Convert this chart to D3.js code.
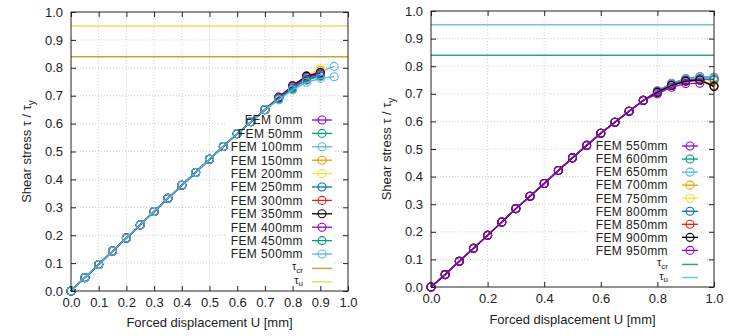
<!DOCTYPE html>
<html>
<head>
<meta charset="utf-8">
<script src="https://cdn.jsdelivr.net/npm/d3@7"></script>
<style>
  body { margin: 0; background: #fff; }
  svg text { font-family: "Liberation Sans", Arial, sans-serif; fill: #222; }
</style>
</head>
<body>
<svg id="chart" width="729" height="336"></svg>
<script>
// Forced displacement steps [mm]
const uLeft  = [0, 0.05, 0.1, 0.15, 0.2, 0.25, 0.3, 0.35, 0.4, 0.45, 0.5, 0.55, 0.6, 0.65, 0.7, 0.75, 0.8, 0.85, 0.9, 0.95];
const uRight = [0, 0.05, 0.1, 0.15, 0.2, 0.25, 0.3, 0.35, 0.4, 0.45, 0.5, 0.55, 0.6, 0.65, 0.7, 0.75, 0.8, 0.85, 0.9, 0.95, 1.0];

// Normalised shear stress tau / tau_y, left panel (0 - 500 mm)
const fem0   = [0, 0.048, 0.095, 0.143, 0.190, 0.237, 0.285, 0.332, 0.379, 0.425, 0.472, 0.518, 0.564, 0.607, 0.650, 0.694, 0.734, 0.768, 0.781];
const fem50  = [0, 0.048, 0.095, 0.143, 0.190, 0.237, 0.285, 0.332, 0.379, 0.425, 0.472, 0.518, 0.564, 0.607, 0.650, 0.692, 0.731, 0.764, 0.776];
const fem100 = [0, 0.048, 0.095, 0.143, 0.190, 0.237, 0.285, 0.332, 0.379, 0.425, 0.472, 0.518, 0.564, 0.607, 0.650, 0.690, 0.728, 0.760, 0.785, 0.805];
const fem150 = [0, 0.048, 0.095, 0.143, 0.190, 0.237, 0.285, 0.332, 0.379, 0.425, 0.472, 0.518, 0.564, 0.607, 0.650, 0.693, 0.733, 0.768, 0.790];
const fem200 = [0, 0.048, 0.095, 0.143, 0.190, 0.237, 0.285, 0.332, 0.379, 0.425, 0.472, 0.518, 0.564, 0.607, 0.650, 0.694, 0.735, 0.772, 0.797];
const fem250 = [0, 0.048, 0.095, 0.143, 0.190, 0.237, 0.285, 0.332, 0.379, 0.425, 0.472, 0.518, 0.564, 0.607, 0.650, 0.688, 0.726, 0.758, 0.772];
const fem300 = [0, 0.048, 0.095, 0.143, 0.190, 0.237, 0.285, 0.332, 0.379, 0.425, 0.472, 0.518, 0.564, 0.607, 0.650, 0.695, 0.736, 0.770, 0.780];
const fem350 = [0, 0.048, 0.095, 0.143, 0.190, 0.237, 0.285, 0.332, 0.379, 0.425, 0.472, 0.518, 0.564, 0.607, 0.650, 0.694, 0.735, 0.770, 0.783];
const fem400 = [0, 0.048, 0.095, 0.143, 0.190, 0.237, 0.285, 0.332, 0.379, 0.425, 0.472, 0.518, 0.564, 0.607, 0.650, 0.693, 0.733, 0.766, 0.778];
const fem450 = [0, 0.048, 0.095, 0.143, 0.190, 0.237, 0.285, 0.332, 0.379, 0.425, 0.472, 0.518, 0.564, 0.607, 0.650, 0.689, 0.727, 0.756, 0.770];
const fem500 = [0, 0.048, 0.095, 0.143, 0.190, 0.237, 0.285, 0.332, 0.379, 0.425, 0.472, 0.518, 0.564, 0.607, 0.650, 0.685, 0.721, 0.748, 0.762, 0.768];

// Right panel (550 - 950 mm)
const fem550 = [0, 0.045, 0.093, 0.140, 0.187, 0.235, 0.284, 0.329, 0.375, 0.422, 0.468, 0.513, 0.557, 0.597, 0.637, 0.676, 0.711, 0.738, 0.755, 0.762, 0.758];
const fem600 = [0, 0.045, 0.093, 0.140, 0.187, 0.235, 0.284, 0.329, 0.375, 0.422, 0.468, 0.513, 0.557, 0.597, 0.637, 0.676, 0.709, 0.735, 0.750, 0.755, 0.748];
const fem650 = [0, 0.045, 0.093, 0.140, 0.187, 0.235, 0.284, 0.329, 0.375, 0.422, 0.468, 0.513, 0.557, 0.597, 0.637, 0.676, 0.710, 0.737, 0.754, 0.761, 0.760];
const fem700 = [0, 0.045, 0.093, 0.140, 0.187, 0.235, 0.284, 0.329, 0.375, 0.422, 0.468, 0.513, 0.557, 0.597, 0.637, 0.676, 0.706, 0.730, 0.745, 0.749, 0.728];
const fem750 = [0, 0.045, 0.093, 0.140, 0.187, 0.235, 0.284, 0.329, 0.375, 0.422, 0.468, 0.513, 0.557, 0.597, 0.637, 0.676, 0.707, 0.732, 0.747, 0.752, 0.745];
const fem800 = [0, 0.045, 0.093, 0.140, 0.187, 0.235, 0.284, 0.329, 0.375, 0.422, 0.468, 0.513, 0.557, 0.597, 0.637, 0.676, 0.708, 0.733, 0.749, 0.754, 0.752];
const fem850 = [0, 0.045, 0.093, 0.140, 0.187, 0.235, 0.284, 0.329, 0.375, 0.422, 0.468, 0.513, 0.557, 0.597, 0.637, 0.676, 0.706, 0.731, 0.746, 0.749, 0.730];
const fem900 = [0, 0.045, 0.093, 0.140, 0.187, 0.235, 0.284, 0.329, 0.375, 0.422, 0.468, 0.513, 0.557, 0.597, 0.637, 0.676, 0.705, 0.730, 0.746, 0.750, 0.726];
const fem950 = [0, 0.045, 0.093, 0.140, 0.187, 0.235, 0.284, 0.329, 0.375, 0.422, 0.468, 0.513, 0.557, 0.597, 0.637, 0.676, 0.700, 0.724, 0.737, 0.738];

// Reference stress levels
const tauCr = 0.84;
const tauU  = 0.95;

const leftNames  = ["FEM 0mm", "FEM 50mm", "FEM 100mm", "FEM 150mm", "FEM 200mm", "FEM 250mm", "FEM 300mm", "FEM 350mm", "FEM 400mm", "FEM 450mm", "FEM 500mm"];
const rightNames = ["FEM 550mm", "FEM 600mm", "FEM 650mm", "FEM 700mm", "FEM 750mm", "FEM 800mm", "FEM 850mm", "FEM 900mm", "FEM 950mm"];

const leftTicksX  = [0, 0.1, 0.2, 0.3, 0.4, 0.5, 0.6, 0.7, 0.8, 0.9, 1.0];
const rightTicksX = [0, 0.2, 0.4, 0.6, 0.8, 1.0];
const ticksY      = [0, 0.1, 0.2, 0.3, 0.4, 0.5, 0.6, 0.7, 0.8, 0.9, 1.0];

// gnuplot-style line colours, cycling
const palette = ["#9400d3", "#009e73", "#56b4e9", "#e69f00", "#f0e442", "#0072b2", "#e51e10", "#000000"];

const svg = d3.select("#chart");

function panel(cfg) {
  const x = d3.scaleLinear().domain([0, 1]).range([cfg.x0, cfg.x1]);
  const y = d3.scaleLinear().domain([0, 1]).range([cfg.y1, cfg.y0]);
  const g = svg.append("g");

  // dotted grid
  g.append("g").selectAll("line").data(cfg.gridX).join("line")
    .attr("x1", d => x(d)).attr("x2", d => x(d))
    .attr("y1", cfg.y0).attr("y2", cfg.y1)
    .attr("stroke", "#c4c4c4").attr("stroke-width", 0.8).attr("stroke-dasharray", "1,2");
  g.append("g").selectAll("line").data(ticksY.slice(1, -1)).join("line")
    .attr("y1", d => y(d)).attr("y2", d => y(d))
    .attr("x1", cfg.x0).attr("x2", cfg.x1)
    .attr("stroke", "#c4c4c4").attr("stroke-width", 0.8).attr("stroke-dasharray", "1,2");

  // horizontal reference levels
  g.append("line").attr("x1", cfg.x0).attr("x2", cfg.x1)
    .attr("y1", y(tauU)).attr("y2", y(tauU))
    .attr("stroke", cfg.uColor).attr("stroke-width", 1.5);
  g.append("line").attr("x1", cfg.x0).attr("x2", cfg.x1)
    .attr("y1", y(tauCr)).attr("y2", y(tauCr))
    .attr("stroke", cfg.crColor).attr("stroke-width", 1.5);

  // legend box (opaque, hides grid behind it)
  const lg = cfg.legend;
  const rows = cfg.names.length + 2;
  g.append("rect")
    .attr("x", lg.textRight - lg.boxW).attr("y", lg.top - 8)
    .attr("width", lg.boxW + (lg.s1 - lg.textRight) + 3)
    .attr("height", lg.step * (rows - 1) + 16)
    .attr("fill", "#fff");

  // series
  const line = d3.line().x(d => x(d[0])).y(d => y(d[1]));
  cfg.series.forEach((vals, i) => {
    const pts = vals.map((v, k) => [cfg.u[k], v]);
    const c = palette[i % palette.length];
    g.append("path").attr("d", line(pts)).attr("fill", "none")
      .attr("stroke", c).attr("stroke-width", 1.3);
    g.append("g").selectAll("circle").data(pts).join("circle")
      .attr("cx", d => x(d[0])).attr("cy", d => y(d[1])).attr("r", 4)
      .attr("fill", "none").attr("stroke", c).attr("stroke-width", 1.1);
  });

  // legend entries
  cfg.names.forEach((name, i) => {
    const yy = lg.top + i * lg.step;
    const c = palette[i % palette.length];
    g.append("text").attr("x", lg.textRight).attr("y", yy + 4.3)
      .attr("text-anchor", "end").attr("font-size", 12)
      .attr("letter-spacing", 0.4).text(name);
    g.append("line").attr("x1", lg.s0).attr("x2", lg.s1).attr("y1", yy).attr("y2", yy)
      .attr("stroke", c).attr("stroke-width", 1.3);
    g.append("circle").attr("cx", (lg.s0 + lg.s1) / 2).attr("cy", yy).attr("r", 4)
      .attr("fill", "none").attr("stroke", c).attr("stroke-width", 1.1);
  });
  [["cr", cfg.crColor], ["u", cfg.uColor]].forEach(([sub, c], j) => {
    const yy = lg.top + (cfg.names.length + j) * lg.step + 1;
    const t = g.append("text").attr("x", lg.textRight).attr("y", yy + 2)
      .attr("text-anchor", "end").attr("font-size", 11);
    t.append("tspan").text("τ");
    t.append("tspan").attr("font-size", 8).attr("dy", 2.5).text(sub);
    g.append("line").attr("x1", lg.s0).attr("x2", lg.s1).attr("y1", yy).attr("y2", yy)
      .attr("stroke", c).attr("stroke-width", 1.5);
  });

  // axes with inward ticks, mirrored on top and right
  const fmt = d3.format(".1f");
  const ax = (axis, tr) => {
    const a = g.append("g").attr("transform", tr).call(axis);
    a.select(".domain").remove();
    a.selectAll("line").attr("stroke", "#222");
    a.selectAll("text").attr("font-size", 13)
      .style("font-family", '"Liberation Sans", Arial, sans-serif').attr("fill", "#222");
    return a;
  };
  ax(d3.axisBottom(x).tickValues(cfg.ticksX).tickFormat(fmt).tickSizeInner(-5).tickPadding(7),
     `translate(0,${cfg.y1})`);
  ax(d3.axisLeft(y).tickValues(ticksY).tickFormat(fmt).tickSizeInner(-5).tickPadding(8),
     `translate(${cfg.x0},0)`);
  ax(d3.axisTop(x).tickValues(cfg.ticksX).tickFormat("").tickSizeInner(-5),
     `translate(0,${cfg.y0})`);
  ax(d3.axisRight(y).tickValues(ticksY).tickFormat("").tickSizeInner(-5),
     `translate(${cfg.x1},0)`);

  g.append("rect").attr("x", cfg.x0).attr("y", cfg.y0)
    .attr("width", cfg.x1 - cfg.x0).attr("height", cfg.y1 - cfg.y0)
    .attr("fill", "none").attr("stroke", "#222").attr("stroke-width", 1);

  // axis titles
  g.append("text").attr("x", (cfg.x0 + cfg.x1) / 2).attr("y", cfg.xTitleY)
    .attr("text-anchor", "middle").attr("font-size", 13).text("Forced displacement U [mm]");
  const yt = g.append("text")
    .attr("transform", `translate(${cfg.yTitleX},${(cfg.y0 + cfg.y1) / 2}) rotate(-90)`)
    .attr("text-anchor", "middle").attr("font-size", 13);
  yt.append("tspan").text("Shear stress τ / τ");
  yt.append("tspan").attr("font-size", 10).attr("dy", 4).text("y");
}

panel({
  x0: 71, x1: 348, y0: 12, y1: 291,
  u: uLeft,
  series: [fem0, fem50, fem100, fem150, fem200, fem250, fem300, fem350, fem400, fem450, fem500],
  names: leftNames,
  ticksX: leftTicksX,
  gridX: leftTicksX.slice(1, -1),
  crColor: "#c9a630", uColor: "#ebdc66",
  legend: { top: 120, step: 13.4, textRight: 303, s0: 312, s1: 332, boxW: 78 },
  xTitleY: 327, yTitleX: 31
});

panel({
  x0: 431, x1: 714, y0: 11, y1: 287,
  u: uRight,
  series: [fem550, fem600, fem650, fem700, fem750, fem800, fem850, fem900, fem950],
  names: rightNames,
  ticksX: rightTicksX,
  gridX: rightTicksX.slice(1, -1),
  crColor: "#36a08c", uColor: "#72c2e0",
  legend: { top: 146, step: 13.05, textRight: 668, s0: 682, s1: 698, boxW: 78 },
  xTitleY: 324, yTitleX: 391
});
</script>
</body>
</html>
